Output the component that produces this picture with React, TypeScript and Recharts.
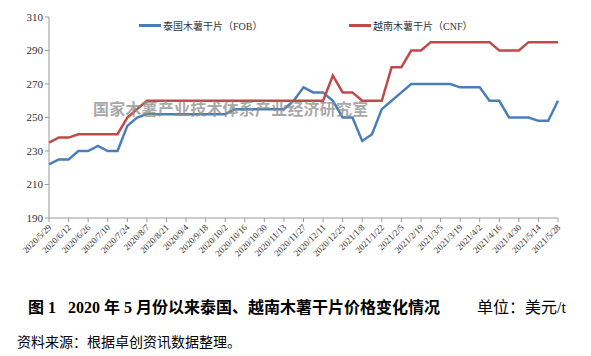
import { LineChart, Line, XAxis, YAxis } from 'recharts';

const dates = [
  '2020/5/29', '2020/6/5', '2020/6/12', '2020/6/19', '2020/6/26', '2020/7/3', '2020/7/10', '2020/7/17',
  '2020/7/24', '2020/7/31', '2020/8/7', '2020/8/14', '2020/8/21', '2020/8/28', '2020/9/4', '2020/9/11',
  '2020/9/18', '2020/9/25', '2020/10/2', '2020/10/9', '2020/10/16', '2020/10/23', '2020/10/30', '2020/11/6',
  '2020/11/13', '2020/11/20', '2020/11/27', '2020/12/4', '2020/12/11', '2020/12/18', '2020/12/25', '2021/1/1',
  '2021/1/8', '2021/1/15', '2021/1/22', '2021/1/29', '2021/2/5', '2021/2/12', '2021/2/19', '2021/2/26',
  '2021/3/5', '2021/3/12', '2021/3/19', '2021/3/26', '2021/4/2', '2021/4/9', '2021/4/16', '2021/4/23',
  '2021/4/30', '2021/5/7', '2021/5/14', '2021/5/21', '2021/5/28',
];

const thaiFob = [
  222, 225, 225, 230, 230, 233, 230, 230, 245, 250, 252, 252, 252, 252, 252, 252,
  252, 252, 252, 255, 255, 255, 255, 255, 255, 260, 268, 265, 265, 260, 250, 250,
  236, 240, 255, 260, 265, 270, 270, 270, 270, 270, 268, 268, 268, 260, 260, 250,
  250, 250, 248, 248, 260,
];

const vietCnf = [
  235, 238, 238, 240, 240, 240, 240, 240, 250, 255, 260, 260, 260, 260, 260, 260,
  260, 260, 260, 260, 260, 260, 260, 260, 260, 260, 260, 260, 260, 275, 265, 265,
  260, 260, 260, 280, 280, 290, 290, 295, 295, 295, 295, 295, 295, 295, 290, 290,
  290, 295, 295, 295, 295,
];

const yTicks = [190, 210, 230, 250, 270, 290, 310];

const data = dates.map((d, i) => ({ date: d, thai: thaiFob[i], viet: vietCnf[i] }));

const serif = '"Liberation Serif", "Times New Roman", "Noto Sans CJK SC", serif';

function DateTick(props: any) {
  const { x, y, payload } = props;
  return (
    <text
      x={x + 3}
      y={y + 4}
      transform={`rotate(-45 ${x + 3} ${y + 4})`}
      textAnchor="end"
      fontSize={9}
      fontFamily={serif}
      fill="#333"
    >
      {payload.value}
    </text>
  );
}

export default function App() {
  return (
    <div style={{ position: 'absolute', left: 0, top: 0, width: 591, height: 356, background: '#fff', fontFamily: serif }}>
      <LineChart width={591} height={290} data={data} margin={{ top: 17, right: 33, left: 0, bottom: 0 }}>
        <XAxis
          dataKey="date"
          interval={1}
          tick={<DateTick />}
          tickSize={4}
          stroke="#999"
          height={72}
        />
        <YAxis
          domain={[190, 310]}
          ticks={yTicks}
          width={49}
          tickSize={4}
          stroke="#999"
          tick={{ fontSize: 11, fontFamily: serif, fill: '#333' }}
        />
        <Line dataKey="thai" stroke="#4A7EBB" strokeWidth={2.5} dot={false} isAnimationActive={false} />
        <Line dataKey="viet" stroke="#BE4B48" strokeWidth={2.5} dot={false} isAnimationActive={false} />
      </LineChart>

      <div style={{ position: 'absolute', left: 139, top: 18, display: 'flex', alignItems: 'center', fontSize: 10, color: '#333' }}>
        <span style={{ display: 'inline-block', width: 22, height: 3, background: '#4A7EBB', marginRight: 2 }} />
        泰国木薯干片（FOB）
      </div>
      <div style={{ position: 'absolute', left: 349, top: 18, display: 'flex', alignItems: 'center', fontSize: 10, color: '#333' }}>
        <span style={{ display: 'inline-block', width: 22, height: 3, background: '#BE4B48', marginRight: 2 }} />
        越南木薯干片（CNF）
      </div>

      <div
        style={{
          position: 'absolute', left: 93, top: 96, fontSize: 16, fontWeight: 'bold',
          color: 'rgba(140,140,140,0.75)', letterSpacing: 0.2,
          fontFamily: '"Noto Sans CJK SC", sans-serif',
        }}
      >
        国家木薯产业技术体系产业经济研究室
      </div>

      <div style={{ position: 'absolute', left: 28, top: 294, fontSize: 16, fontWeight: 'bold', color: '#000', whiteSpace: 'nowrap' }}>
        图 1&nbsp;&nbsp;&nbsp;2020 年 5 月份以来泰国、越南木薯干片价格变化情况
      </div>
      <div style={{ position: 'absolute', left: 477, top: 294, fontSize: 16, color: '#000', whiteSpace: 'nowrap' }}>
        单位：美元/t
      </div>
      <div style={{ position: 'absolute', left: 17, top: 331, fontSize: 14, color: '#000', whiteSpace: 'nowrap' }}>
        资料来源：根据卓创资讯数据整理。
      </div>
    </div>
  );
}
